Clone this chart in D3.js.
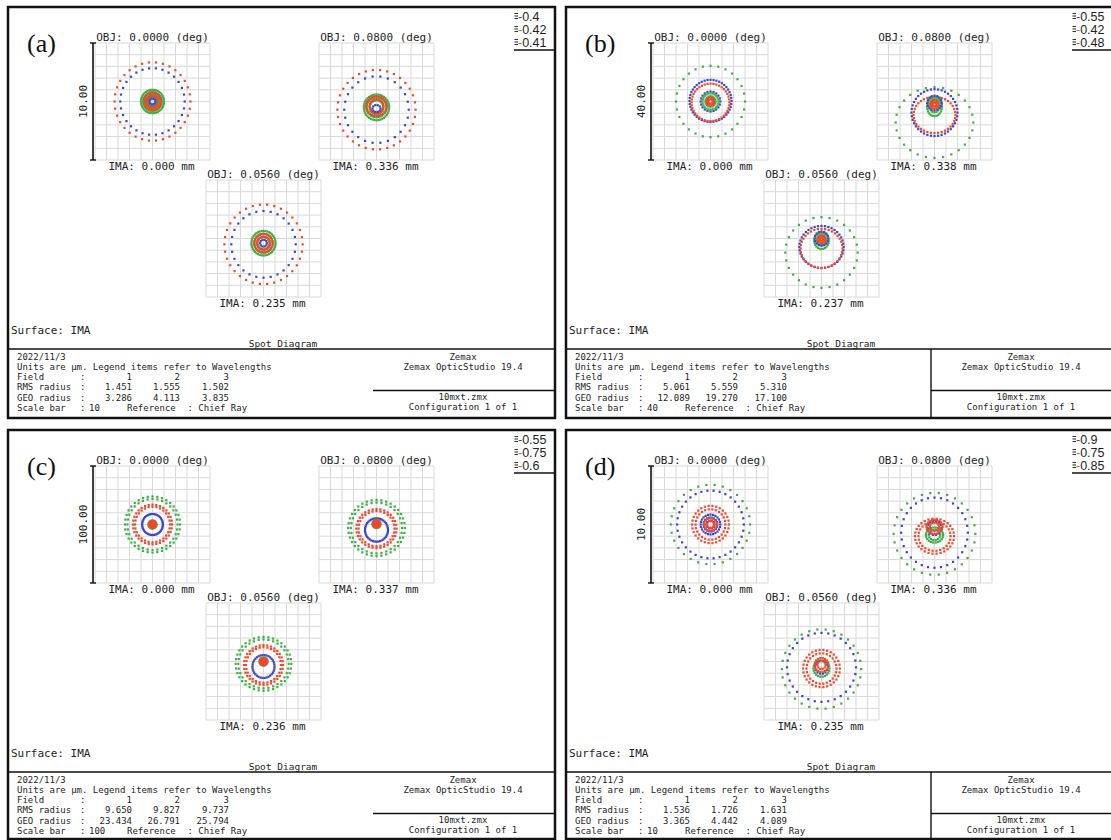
<!DOCTYPE html>
<html><head><meta charset="utf-8">
<script src="https://cdn.jsdelivr.net/npm/d3@7"></script>
<style>body{margin:0;background:#fff;} svg{display:block}</style>
</head><body>
<svg id="chart" width="1111" height="840"></svg>
<script>
// ---------------- DATA ----------------
const panelLabels = ["(a)", "(b)", "(c)", "(d)"];
const legendWavelengths = [
  ["0.4", "0.42", "0.41"],
  ["0.55", "0.42", "0.48"],
  ["0.55", "0.75", "0.6"],
  ["0.9", "0.75", "0.85"]
];
const scaleBars = [10, 40, 100, 10];
const scaleBarLabels = ["10.00", "40.00", "100.00", "10.00"];
const fieldObjDeg = ["0.0000", "0.0800", "0.0560"];
const fieldNumbers = ["1", "2", "3"];
const imaHeights = [
  ["0.000", "0.336", "0.235"],
  ["0.000", "0.338", "0.237"],
  ["0.000", "0.337", "0.236"],
  ["0.000", "0.336", "0.235"]
];
const rmsRadius = [
  ["1.451", "1.555", "1.502"],
  ["5.061", "5.559", "5.310"],
  ["9.650", "9.827", "9.737"],
  ["1.536", "1.726", "1.631"]
];
const geoRadius = [
  ["3.286", "4.113", "3.835"],
  ["12.089", "19.270", "17.100"],
  ["23.434", "26.791", "25.794"],
  ["3.365", "4.442", "4.089"]
];
// Spot rings (µm): [field, wavelength, rx, ry, centre dy, ray count]
const spotRingsA = [
  [0,2,3.3,3.35,0,34],[0,0,2.8,2.85,0,30],
  [0,1,1.0,1.0,0,40],[0,1,0.8,0.8,0,32],[0,1,0.6,0.6,0,26],[0,1,0.4,0.4,0,18],
  [0,2,0.75,0.75,0,28],[0,2,0.5,0.5,0,20],[0,0,0.25,0.25,0,10],
  [1,2,3.4,3.4,-0.7,34],[1,0,2.8,2.85,-0.7,26],
  [1,1,1.1,1.1,-0.5,40],[1,1,0.85,0.85,-0.5,32],[1,1,0.6,0.6,-0.5,24],
  [1,2,0.9,0.85,-0.4,28],[1,2,0.6,0.6,-0.4,20],[1,0,0.35,0.3,-0.6,10],
  [2,2,3.4,3.4,-0.5,34],[2,0,2.8,2.85,-0.5,28],
  [2,1,1.05,1.05,-0.4,40],[2,1,0.8,0.8,-0.4,32],[2,1,0.55,0.55,-0.4,24],
  [2,2,0.8,0.8,-0.4,28],[2,2,0.55,0.55,-0.4,20],[2,0,0.3,0.3,-0.4,10]
];
const spotRingsB = [
  [0,1,12.0,12.2,0,28],[0,0,7.3,7.2,0.2,44],[0,2,6.6,6.4,-0.3,40],
  [0,0,3.4,3.4,0,20],[0,1,2.8,2.8,0,24],[0,1,1.8,1.8,0,16],[0,2,1.4,1.4,0,14],[0,2,0.8,0.8,0,8],
  [1,1,13.5,12.1,-7.2,28],[1,0,8.0,8.0,-3.8,40],[1,2,7.3,6.2,-4.6,36],
  [1,1,2.6,3.2,-1.8,24],[1,1,1.8,2.2,-1.5,16],[1,0,2.5,2.5,-0.5,16],[1,2,1.4,1.4,-1.0,14],[1,2,0.7,0.7,-1.0,8],
  [2,1,12.6,12.1,-4.8,28],[2,0,7.7,7.2,-2.9,40],[2,2,7.3,6.7,-3.4,36],
  [2,1,2.5,2.8,-0.8,24],[2,1,1.6,1.8,-0.6,16],[2,0,2.4,2.4,0,16],[2,2,1.3,1.3,-0.3,14],[2,2,0.6,0.6,-0.3,8]
];
const spotRingsC = [
  [0,1,24,24,0,36],[0,1,21.8,21.8,0,32],[0,2,17,17,0,32],[0,2,15.2,15.2,0,28],[0,0,9,9,0,40],
  [0,1,3.5,3.5,0,18],[0,2,3,3,0,18],[0,2,1.8,1.8,0,12],[0,2,0.8,0.8,0,6],
  [1,1,24.6,24,-3,36],[1,1,22.2,21.7,-3,32],[1,2,17.5,16.7,-3.5,32],[1,2,15.6,15,-3.5,28],[1,0,10,10,-4.7,40],
  [1,1,3.5,3.5,0.5,18],[1,2,3,3,0.5,18],[1,2,1.8,1.8,0.5,12],[1,2,0.8,0.8,0.5,6],
  [2,1,24.2,23,-2,36],[2,1,21.9,20.8,-2,32],[2,2,17,17,-3,32],[2,2,15.2,15.2,-3,28],[2,0,9.6,9.8,-4.3,34],
  [2,1,3.5,3.5,0,18],[2,2,3,3,0,18],[2,2,1.8,1.8,0,12],[2,2,0.8,0.8,0,6]
];
const spotRingsD = [
  [0,1,3.45,3.4,0,30],[0,0,2.9,2.9,0,34],[0,2,1.6,1.6,0,30],[0,2,1.3,1.3,0,26],
  [0,0,0.85,0.85,0,24],[0,0,0.6,0.6,0,18],[0,0,0.35,0.35,0,10],[0,2,0.55,0.55,0,18],[0,2,0.3,0.3,0,10],
  [1,1,3.55,3.5,-0.8,30],[1,0,2.9,3.0,-0.7,32],[1,2,1.7,1.5,-1.0,30],[1,2,1.4,1.25,-1.0,26],
  [1,1,0.75,0.65,-0.9,22],[1,1,0.5,0.45,-0.9,14],[1,0,0.6,0.6,-0.3,14],[1,2,0.7,0.6,-0.2,20],[1,2,0.4,0.35,-0.2,12],
  [2,1,3.45,3.4,-0.65,30],[2,0,3.0,2.95,-0.5,32],[2,2,1.6,1.6,-0.6,30],[2,2,1.3,1.3,-0.6,26],
  [2,1,0.7,0.7,-0.6,22],[2,0,0.55,0.55,-0.5,14],[2,2,0.6,0.6,-0.3,18],[2,2,0.35,0.35,-0.3,10]
];
const spotRings = [spotRingsA, spotRingsB, spotRingsC, spotRingsD];

// ---------------- STYLE / LAYOUT ----------------
const waveColors = ["#3a46c6", "#3caf44", "#f0472b"];
const origins = [[8, 7], [566, 7], [8, 430], [566, 430]];
const panelW = 547, panelHs = [411, 411, 409, 409];
const showDivider = [false, true, false, true];
const boxW = 115, boxH = 117;
const boxPos = [[87, 36], [311, 36], [198, 173]];
const mono = "'DejaVu Sans Mono', 'Liberation Mono', monospace";
const ink = "#1e1e1e";

const svg = d3.select("#chart");
svg.append("rect").attr("width", 1111).attr("height", 840).attr("fill", "#fff");

panelLabels.forEach((lab, pi) => {
  const g = svg.append("g").attr("transform", `translate(${origins[pi][0]},${origins[pi][1]})`);
  const ph = panelHs[pi];
  const S = scaleBars[pi];

  boxPos.forEach((bp, fi) => {
    const bg = g.append("g").attr("transform", `translate(${bp[0]},${bp[1]})`);
    const x = d3.scaleLinear().domain([-S / 2, S / 2]).range([0, boxW]);
    const y = d3.scaleLinear().domain([-S / 2, S / 2]).range([boxH, 0]);
    const gridVals = d3.range(0, 11).map(k => -S / 2 + k * S / 10);
    bg.selectAll("line.gx").data(gridVals).join("line")
      .attr("x1", d => x(d)).attr("x2", d => x(d)).attr("y1", 0).attr("y2", boxH)
      .attr("stroke", "#d9d9d9").attr("stroke-width", 1);
    bg.selectAll("line.gy").data(gridVals).join("line")
      .attr("y1", d => y(d)).attr("y2", d => y(d)).attr("x1", 0).attr("x2", boxW)
      .attr("stroke", "#d9d9d9").attr("stroke-width", 1);

    const rings = spotRings[pi].filter(r => r[0] === fi);
    const pts = [];
    rings.forEach(r => {
      const [f, w, rx, ry, dy, n] = r;
      for (let k = 0; k < n; k++) {
        const a = 2 * Math.PI * k / n;
        pts.push({ px: rx * Math.cos(a), py: dy + ry * Math.sin(a), w: w });
      }
    });
    bg.selectAll("rect.pt").data(pts).join("rect")
      .attr("x", d => x(d.px) - 1.1).attr("y", d => y(d.py) - 1.1)
      .attr("width", 2.2).attr("height", 2.2)
      .attr("fill", d => waveColors[d.w]);

    bg.append("text").attr("x", boxW / 2).attr("y", -2.5).attr("text-anchor", "middle")
      .attr("font-family", mono).attr("font-size", 11).attr("fill", ink)
      .text(`OBJ: ${fieldObjDeg[fi]} (deg)`);
    bg.append("text").attr("x", boxW / 2 - 1).attr("y", boxH + 9.5).attr("text-anchor", "middle")
      .attr("font-family", mono).attr("font-size", 11).attr("fill", ink)
      .text(`IMA: ${imaHeights[pi][fi]} mm`);

    if (fi === 0) {
      bg.append("line").attr("x1", -2).attr("x2", -2).attr("y1", y(S / 2)).attr("y2", y(-S / 2))
        .attr("stroke", "#111").attr("stroke-width", 1.6);
      [S / 2, -S / 2].forEach(v => bg.append("line").attr("x1", -5).attr("x2", 1)
        .attr("y1", y(v)).attr("y2", y(v)).attr("stroke", "#111").attr("stroke-width", 1.4));
      bg.append("text").attr("transform", `translate(-8,${boxH / 2}) rotate(-90)`)
        .attr("text-anchor", "middle").attr("font-family", mono).attr("font-size", 11)
        .attr("fill", ink).text(scaleBarLabels[pi]);
    }
  });

  g.append("text").attr("x", 19).attr("y", 45).attr("font-family", "'Liberation Serif', 'Times New Roman', serif")
    .attr("font-size", 26).attr("fill", "#111").text(lab);

  legendWavelengths[pi].forEach((wl, j) => {
    const by = 13.5 + 13 * j;
    [-7, -4.5, -2].forEach(o => g.append("line").attr("x1", 506.5).attr("x2", 510)
      .attr("y1", by + o).attr("y2", by + o).attr("stroke", "#333").attr("stroke-width", 1.1));
    const t = g.append("text").attr("x", 510).attr("y", by)
      .attr("font-family", "'Liberation Sans', Arial, sans-serif").attr("font-size", 12.5).attr("fill", ink);
    t.append("tspan").attr("fill", waveColors[j]).text("-");
    t.append("tspan").text(wl);
  });
  g.append("line").attr("x1", 506).attr("x2", panelW).attr("y1", 43).attr("y2", 43)
    .attr("stroke", "#111").attr("stroke-width", 1.5);

  g.append("text").attr("x", 3).attr("y", 327).attr("font-family", mono).attr("font-size", 11)
    .attr("fill", ink).text("Surface: IMA");
  g.append("text").attr("x", 275).attr("y", 339.5).attr("text-anchor", "middle")
    .attr("font-family", mono).attr("font-size", 9.5).attr("fill", ink).text("Spot Diagram");
  g.append("line").attr("x1", 0).attr("x2", panelW).attr("y1", 342).attr("y2", 342)
    .attr("stroke", "#111").attr("stroke-width", 1.6);
  if (showDivider[pi]) {
    g.append("line").attr("x1", 365).attr("x2", 365).attr("y1", 342).attr("y2", ph)
      .attr("stroke", "#111").attr("stroke-width", 1.4);
  }
  g.append("line").attr("x1", 365).attr("x2", panelW).attr("y1", 383.5).attr("y2", 383.5)
    .attr("stroke", "#111").attr("stroke-width", 1.4);

  const lh = 10.3, l0 = 352.5;
  const info = (txt, x, row, anchor) => g.append("text").attr("x", x).attr("y", l0 + lh * row)
    .attr("text-anchor", anchor || "start").attr("font-family", mono).attr("font-size", 9)
    .attr("fill", ink).text(txt);
  info("2022/11/3", 9, 0);
  info("Units are \u00b5m. Legend items refer to Wavelengths", 9, 1);
  info("Field", 9, 2); info(":", 72, 2);
  info("RMS radius", 9, 3); info(":", 72, 3);
  info("GEO radius", 9, 4); info(":", 72, 4);
  const colEnds = [124, 172, 221];
  fieldNumbers.forEach((f, k) => {
    info(f, colEnds[k], 2, "end");
    info(rmsRadius[pi][k], colEnds[k], 3, "end");
    info(geoRadius[pi][k], colEnds[k], 4, "end");
  });
  info("Scale bar", 9, 5); info(":", 72, 5); info(String(scaleBars[pi]), 81, 5);
  info("Reference", 119, 5); info(": Chief Ray", 179.5, 5);

  const rc = 455;
  info("Zemax", rc, 0, "middle");
  info("Zemax OpticStudio 19.4", rc, 1, "middle");
  g.append("text").attr("x", rc).attr("y", 392.5).attr("text-anchor", "middle").attr("font-family", mono)
    .attr("font-size", 9).attr("fill", ink).text("10mxt.zmx");
  g.append("text").attr("x", rc).attr("y", 403).attr("text-anchor", "middle").attr("font-family", mono)
    .attr("font-size", 9).attr("fill", ink).text("Configuration 1 of 1");

  g.append("rect").attr("x", 0).attr("y", 0).attr("width", panelW).attr("height", ph)
    .attr("fill", "none").attr("stroke", "#111").attr("stroke-width", 2.5);
});
</script>
</body></html>
